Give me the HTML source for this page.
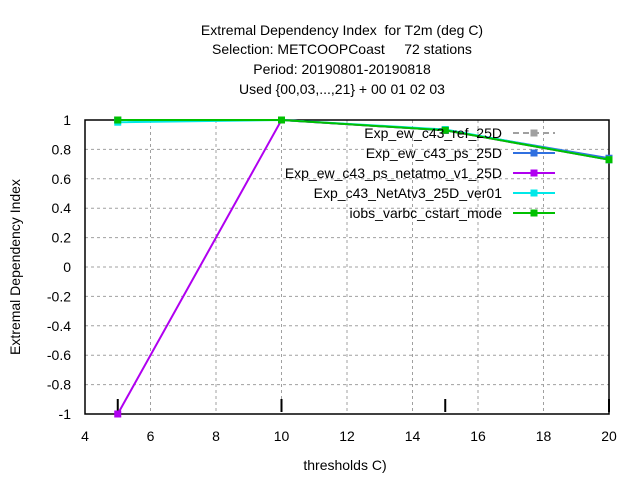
<!DOCTYPE html>
<html><head><meta charset="utf-8"><style>
body{margin:0;background:#fff;font-family:"Liberation Sans",sans-serif}
svg text{font-family:"Liberation Sans",sans-serif;font-size:14px;fill:#000;white-space:pre}
</style></head><body>
<svg id="chart" width="640" height="480">
<g text-anchor="middle">
<text x="342" y="35" xml:space="preserve">Extremal Dependency Index  for T2m (deg C)</text>
<text x="342" y="54" xml:space="preserve">Selection: METCOOPCoast     72 stations</text>
<text x="342" y="74">Period: 20190801-20190818</text>
<text x="342" y="94">Used {00,03,...,21} + 00 01 02 03</text>
</g>
<g id="grid"></g>
<g id="axes"></g>
<g id="series"></g>
<g id="legend"></g>
<text x="345" y="470" text-anchor="middle">thresholds C)</text>
<text transform="translate(20,267) rotate(-90)" text-anchor="middle">Extremal Dependency Index</text>
</svg>
<script>
const xTicks=[4,6,8,10,12,14,16,18,20];
const yTicks=[-1,-0.8,-0.6,-0.4,-0.2,0,0.2,0.4,0.6,0.8,1];
const thresholds=[5,10,15,20];
const seriesNames=["Exp_ew_c43_ref_25D","Exp_ew_c43_ps_25D","Exp_ew_c43_ps_netatmo_v1_25D","Exp_c43_NetAtv3_25D_ver01","iobs_varbc_cstart_mode"];
const seriesColors=["#a0a0a0","#3070e0","#b000f0","#00e8e8","#00c000"];
const refVals=[1,1,0.93,0.73];
const psVals=[1,1,0.93,0.74];
const netatmoVals=[-1,1,0.93,0.73];
const netatv3Vals=[0.985,1,0.935,0.73];
const iobsVals=[1,1,0.93,0.73];
const allVals=[refVals,psVals,netatmoVals,netatv3Vals,iobsVals];
const L=85,R=609,T=120,B=414;
const xs=v=>L+(v-4)/16*(R-L);
const ys=v=>B-(v+1)/2*(B-T);
const NS="http://www.w3.org/2000/svg";
function mk(t,a,p){const e=document.createElementNS(NS,t);for(const k in a)e.setAttribute(k,a[k]);p.appendChild(e);return e;}
const grid=document.getElementById('grid'),axes=document.getElementById('axes'),ser=document.getElementById('series'),leg=document.getElementById('legend');
xTicks.forEach(v=>{
 if(v>4&&v<20){const g=mk('line',{x1:xs(v),x2:xs(v),y1:T,y2:B,stroke:'#a0a0a0','stroke-dasharray':'3,3'},grid);}
 const t=mk('text',{x:xs(v),y:B+27,'text-anchor':'middle'},axes);t.textContent=v;
 
 
});
yTicks.forEach(v=>{
 if(v>-1&&v<1){const g=mk('line',{x1:L,x2:R,y1:ys(v),y2:ys(v),stroke:'#a0a0a0','stroke-dasharray':'3,3'},grid);}
 const t=mk('text',{x:L-14,y:ys(v)+5,'text-anchor':'end'},axes);t.textContent=Math.abs(v)<1e-9?'0':String(v);
 
 
});
const fr=mk('rect',{x:L,y:T,width:R-L,height:B-T,fill:'none',stroke:'#000','stroke-width':1.5},axes);


thresholds.forEach(v=>{const m=mk('line',{x1:xs(v),x2:xs(v),y1:B-15,y2:B-2,stroke:'#000','stroke-width':2},axes);
 
 });
allVals.forEach((vals,i)=>{
 const g=mk('g',{},ser);
 
 
 const pts=vals.map((v,j)=>xs(thresholds[j])+','+ys(v)).join(' ');
 mk('polyline',{points:pts,fill:'none',stroke:seriesColors[i],'stroke-width':2,'stroke-dasharray':i==0?'6,4':'none'},g);
 vals.forEach((v,j)=>{const p=mk('rect',{x:xs(thresholds[j])-3.5,y:ys(v)-3.5,width:7,height:7,fill:seriesColors[i]},g);
  
  });
 const ly=133+i*20;
 const t=mk('text',{x:502,y:ly+5,'text-anchor':'end'},leg);t.textContent=seriesNames[i];
 
 
 mk('line',{x1:513,x2:555,y1:ly,y2:ly,stroke:seriesColors[i],'stroke-width':2,'stroke-dasharray':i==0?'6,4':'none'},leg);
 mk('rect',{x:530.5,y:ly-3.5,width:7,height:7,fill:seriesColors[i]},leg);
});
</script>
</body></html>
